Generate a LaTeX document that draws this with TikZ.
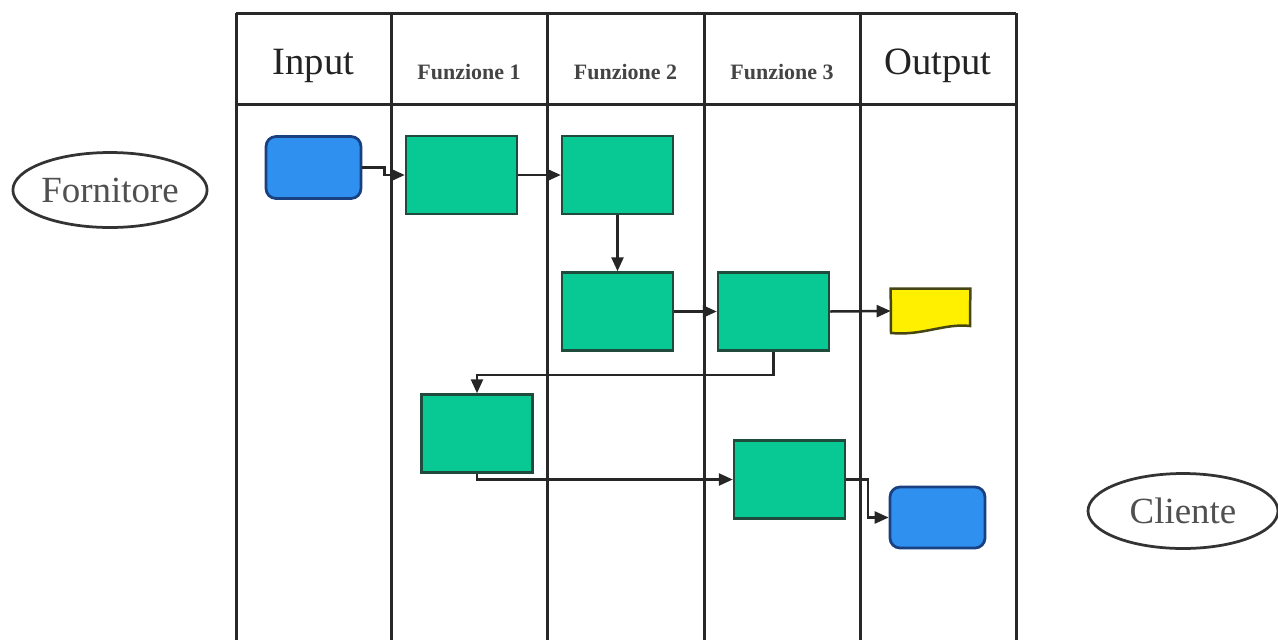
\documentclass[tikz,border=0pt]{standalone}
\usepackage{fontspec}
\setmainfont{Liberation Serif}
\usetikzlibrary{shapes.geometric,arrows.meta}
\definecolor{gfill}{RGB}{8,200,148}
\definecolor{gline}{RGB}{30,75,60}
\definecolor{bfill}{RGB}{48,144,240}
\definecolor{bline}{RGB}{25,65,130}
\definecolor{yfill}{RGB}{255,240,0}
\definecolor{yline}{RGB}{70,70,20}
\definecolor{tabline}{RGB}{40,40,40}
\definecolor{txt}{RGB}{35,35,35}
\definecolor{etxt}{RGB}{80,80,80}
\tikzset{
  tab/.style={draw=tabline, line width=0.06cm},
  gbox/.style={draw=gline, fill=gfill, line width=0.05cm, minimum width=2.22cm, minimum height=1.56cm, inner sep=0pt},
  bbox/.style={draw=bline, fill=bfill, line width=0.055cm, rounded corners=0.2cm, minimum width=1.9cm, minimum height=1.24cm, inner sep=0pt},
  conn/.style={draw=black!85, line width=0.05cm, -{Triangle[length=0.28cm,width=0.24cm]}},
  bighead/.style={font=\fontsize{22}{24}\selectfont, text=txt},
  smallhead/.style={font=\fontsize{12.5}{14}\selectfont\bfseries, text=txt!85},
  actor/.style={draw=black!80, line width=0.055cm, ellipse, minimum width=3.8cm, minimum height=1.5cm, inner sep=0pt, text=etxt, font=\fontsize{21}{23}\selectfont},
}
\begin{document}
\begin{tikzpicture}[x=0.02cm, y=-0.02cm]
\useasboundingbox (0,0) rectangle (1278,640);
\fill[white] (0,0) rectangle (1278,640);
% table
\draw[tab] (236,13) -- (1016,13);
\draw[tab] (236,104) -- (1016,104);
\foreach \xx in {236,391,547,704,860,1016} {
  \draw[tab] (\xx,13) -- (\xx,640);
}
% headers
\node[bighead] (hin) at (313.5,66) {Input};
\node[smallhead] (hf1) at (469,72) {Funzione 1};
\node[smallhead] (hf2) at (625.5,72) {Funzione 2};
\node[smallhead] (hf3) at (782,72) {Funzione 3};
\node[bighead] (hout) at (938,66) {Output};
% actors
\node[actor] (forn) at (110,190) {Fornitore};
\node[actor] (cli) at (1183,511) {Cliente};
% boxes
\node[bbox] (blue1) at (313.5,167.5) {};
\node[gbox] (A) at (461.5,175) {};
\node[gbox] (B) at (617.5,175) {};
\node[gbox] (C) at (617.5,311.5) {};
\node[gbox] (D) at (773.5,311.5) {};
\node[gbox] (E) at (477,433.5) {};
\node[gbox] (F) at (789.5,479.5) {};
\node[bbox, minimum height=1.22cm] (blue2) at (937.5,517.5) {};
% document shape
\node[minimum width=1.58cm, minimum height=0.88cm, inner sep=0pt] (doc) at (930.5,311) {};
\draw[draw=yline, fill=yfill, line width=0.05cm]
  (doc.north west) -- (doc.north east) -- (970,326)
  .. controls (945,323) and (922,336) .. (891,333) -- cycle;
% connectors
\draw[conn] (blue1.east) -- ++(22,0) |- (A.west);
\draw[conn] (A.east) -- (B.west);
\draw[conn] (B.south) -- (C.north);
\draw[conn] (C.east) -- (D.west);
\draw[conn] (D.east) -- (doc.west);
\draw[conn] (D.south) -- ++(0,23) -| (E.north);
\draw[conn] (E.south) |- (F.west);
\draw[conn] (F.east) -- ++(22,0) |- (blue2.west);
\end{tikzpicture}
\end{document}
